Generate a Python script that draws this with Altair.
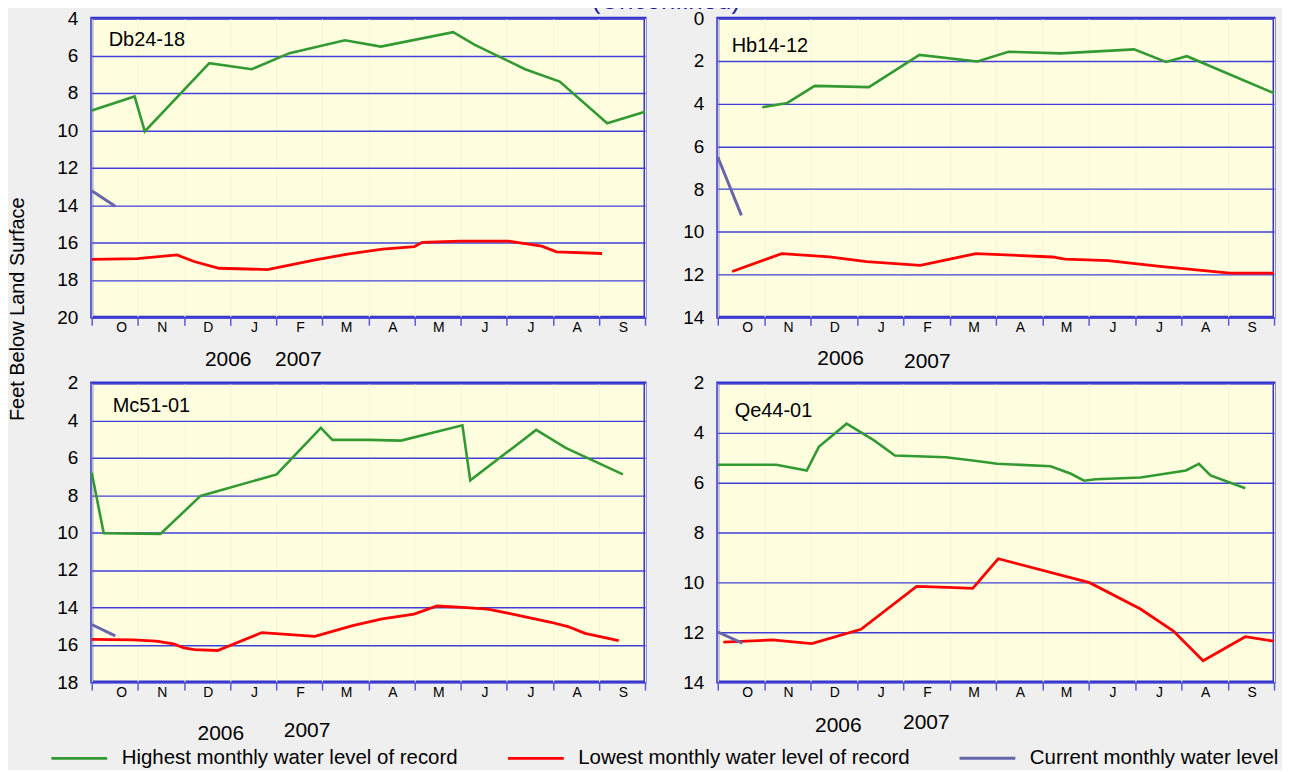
import altair as alt
import pandas as pd

MONTHS = ["O", "N", "D", "J", "F", "M", "A", "M", "J", "J", "A", "S"]
SERIES = [
    "Highest monthly water level of record",
    "Lowest monthly water level of record",
    "Current monthly water level",
]
COLORS = ["#339933", "#ff0000", "#6666a8"]
WIDTHS = [2.6, 3.0, 2.2]

# Db24-18
DB_HI_M = [0, 0.93, 1.15, 2.55, 3.47, 4.29, 5.49, 6.27, 7.84, 8.31, 9.4, 10.15, 11.18, 12]
DB_HI_V = [8.94, 8.19, 10.06, 6.41, 6.73, 5.87, 5.18, 5.52, 4.75, 5.43, 6.73, 7.39, 9.62, 9.01]
DB_LO_M = [0, 0.99, 1.85, 2.22, 2.76, 3.81, 4.85, 5.58, 6.31, 7.0, 7.17, 7.99, 9.04, 9.76, 10.08, 11.07]
DB_LO_V = [16.91, 16.86, 16.67, 17.02, 17.38, 17.45, 16.93, 16.61, 16.36, 16.22, 15.99, 15.93, 15.93, 16.2, 16.5, 16.59]
DB_CU_M = [0, 0.51]
DB_CU_V = [13.24, 14.06]

# Hb14-12
HB_HI_M = [0.96, 1.5, 2.09, 3.26, 4.35, 5.6, 6.27, 7.4, 8.98, 9.67, 10.12, 12]
HB_HI_V = [4.17, 3.97, 3.17, 3.23, 1.72, 2.03, 1.57, 1.65, 1.46, 2.05, 1.78, 3.51]
HB_LO_M = [0.31, 1.38, 2.41, 3.21, 4.37, 5.57, 7.22, 7.49, 8.42, 9.54, 11.05, 12]
HB_LO_V = [11.86, 11.02, 11.17, 11.4, 11.57, 11.02, 11.18, 11.28, 11.35, 11.62, 11.94, 11.94]
HB_CU_M = [0, 0.51]
HB_CU_V = [6.5, 9.23]

# Mc51-01
MC_HI_M = [0, 0.26, 1.49, 2.36, 4.01, 4.97, 5.22, 6.03, 6.71, 8.04, 8.21, 9.64, 10.28, 11.52]
MC_HI_V = [6.8, 10.04, 10.07, 8.04, 6.89, 4.4, 5.04, 5.04, 5.08, 4.26, 7.21, 4.51, 5.47, 6.89]
MC_LO_M = [0, 0.9, 1.4, 1.77, 2.0, 2.23, 2.73, 3.69, 4.84, 5.66, 6.3, 6.99, 7.49, 8.04, 8.59, 9.05, 9.96, 10.33, 10.7, 11.43]
MC_LO_V = [15.71, 15.74, 15.81, 15.96, 16.17, 16.26, 16.31, 15.35, 15.55, 14.98, 14.62, 14.36, 13.93, 14.0, 14.1, 14.32, 14.8, 15.03, 15.39, 15.78]
MC_CU_M = [0, 0.51]
MC_CU_V = [14.92, 15.53]

# Qe44-01
QE_HI_M = [0, 1.26, 1.92, 2.18, 2.78, 3.38, 3.82, 4.92, 5.5, 6.03, 7.18, 7.62, 7.9, 8.15, 9.12, 10.1, 10.38, 10.63, 11.38]
QE_HI_V = [5.28, 5.28, 5.51, 4.56, 3.63, 4.31, 4.91, 4.98, 5.11, 5.24, 5.34, 5.64, 5.92, 5.86, 5.79, 5.51, 5.24, 5.71, 6.22]
QE_LO_M = [0.12, 1.17, 2.03, 3.09, 4.29, 4.97, 5.5, 6.05, 8.02, 9.12, 9.83, 10.47, 11.38, 12]
QE_LO_V = [12.4, 12.31, 12.46, 11.88, 10.16, 10.2, 10.24, 9.05, 10.01, 11.07, 11.95, 13.14, 12.18, 12.36]
QE_CU_M = [0, 0.53]
QE_CU_V = [11.99, 12.44]

YEARS = ["2006", "2007"]
TITLE = "(Unconfined)"
YTITLE = "Feet Below Land Surface"

FONT = "Liberation Sans"
BLUE_GRID = "#4040d8"


def make_df(hm, hv, lm, lv, cm, cv):
    rows = []
    for s, ms, vs in zip(SERIES, [hm, lm, cm], [hv, lv, cv]):
        for m, v in zip(ms, vs):
            rows.append({"month": m, "level": v, "series": s})
    return pd.DataFrame(rows)


LEGEND = alt.Legend(
    orient="none", legendX=-42, legendY=713, direction="horizontal", title=None,
    symbolType="stroke", symbolSize=3136, symbolStrokeWidth=4,
    labelFontSize=20.5, labelFont=FONT, labelColor="black", labelLimit=700,
    labelOffset=13, columnPadding=43,
)

LABEL_EXPR = "[" + ",".join("'%s'" % m for m in MONTHS) + "][datum.value] || ''"

XAXIS = alt.Axis(
    values=list(range(13)), labelExpr=LABEL_EXPR, title=None, domain=False,
    ticks=True, tickSize=8, tickColor="#5a5ad8", tickWidth=1.5,
    labelPadding=-5, labelOffset=24, labelFontSize=14, labelFont=FONT,
    labelColor="black", labelAngle=0, grid=True, gridColor="#f6f6d0", gridWidth=1,
)


def panel(name, df, ydom, w, h, name_xy, year_pos, extras=()):
    xscale = alt.Scale(domain=[0, 12], nice=False, zero=False)
    yscale = alt.Scale(domain=ydom, reverse=True, nice=False, zero=False)
    yaxis = alt.Axis(
        values=list(range(ydom[0], ydom[1] + 1, 2)), title=None, domain=False,
        ticks=False, labelPadding=14, labelFontSize=19, labelFont=FONT,
        labelColor="black", grid=True, gridColor=BLUE_GRID, gridWidth=1.4,
    )
    lines = alt.Chart(df).mark_line().encode(
        x=alt.X("month:Q", scale=xscale, axis=XAXIS),
        y=alt.Y("level:Q", scale=yscale, axis=yaxis),
        color=alt.Color("series:N", scale=alt.Scale(domain=SERIES, range=COLORS), legend=LEGEND),
        strokeWidth=alt.StrokeWidth("series:N", scale=alt.Scale(domain=SERIES, range=WIDTHS), legend=None),
    )
    label = alt.Chart(pd.DataFrame({"t": [name]})).mark_text(
        align="left", baseline="middle", fontSize=20, font=FONT, color="black"
    ).encode(x=alt.value(name_xy[0]), y=alt.value(name_xy[1]), text="t:N")
    layers = [lines, label]
    for yr, (m, yy) in zip(YEARS, year_pos):
        layers.append(
            alt.Chart(pd.DataFrame({"month": [m], "t": [yr]})).mark_text(
                align="center", baseline="middle", fontSize=21, font=FONT, color="black"
            ).encode(x=alt.X("month:Q", scale=xscale, axis=XAXIS), y=alt.value(yy), text="t:N")
        )
    layers.extend(extras)
    return alt.layer(*layers).properties(width=w, height=h)


title_layer = alt.Chart(pd.DataFrame({"t": [TITLE]})).mark_text(
    align="center", baseline="alphabetic", fontSize=26, font=FONT, color="#1a1a9c"
).encode(x=alt.value(576), y=alt.value(-9), text="t:N")

ytitle_layer = alt.Chart(pd.DataFrame({"t": [YTITLE]})).mark_text(
    align="center", baseline="middle", fontSize=20, font=FONT, color="black", angle=270
).encode(x=alt.value(-74), y=alt.value(292), text="t:N")

p1 = panel("Db24-18", make_df(DB_HI_M, DB_HI_V, DB_LO_M, DB_LO_V, DB_CU_M, DB_CU_V),
           [4, 20], 555, 300, (17, 22), [(2.96, 343), (4.48, 343)],
           extras=(title_layer, ytitle_layer))
p2 = panel("Hb14-12", make_df(HB_HI_M, HB_HI_V, HB_LO_M, HB_LO_V, HB_CU_M, HB_CU_V),
           [0, 14], 558, 300, (14, 28), [(2.65, 342), (4.52, 345)])
p3 = panel("Mc51-01", make_df(MC_HI_M, MC_HI_V, MC_LO_M, MC_LO_V, MC_CU_M, MC_CU_V),
           [2, 18], 555, 300, (21, 23), [(2.8, 352), (4.67, 349)])
p4 = panel("Qe44-01", make_df(QE_HI_M, QE_HI_V, QE_LO_M, QE_LO_V, QE_CU_M, QE_CU_V),
           [2, 14], 558, 300, (17, 28), [(2.6, 344), (4.5, 341)])

chart = alt.concat(
    p1, p2, p3, p4, columns=2, spacing={"row": 66, "column": 73}, bounds="flush"
).properties(
    padding={"left": -2, "top": -23, "right": 0, "bottom": 0},
    background="#efefef",
).configure_view(
    fill="#ffffe0", stroke="#3333cc", strokeWidth=3
)

chart.save("out.html", embed_options={"renderer": "svg", "actions": False})
